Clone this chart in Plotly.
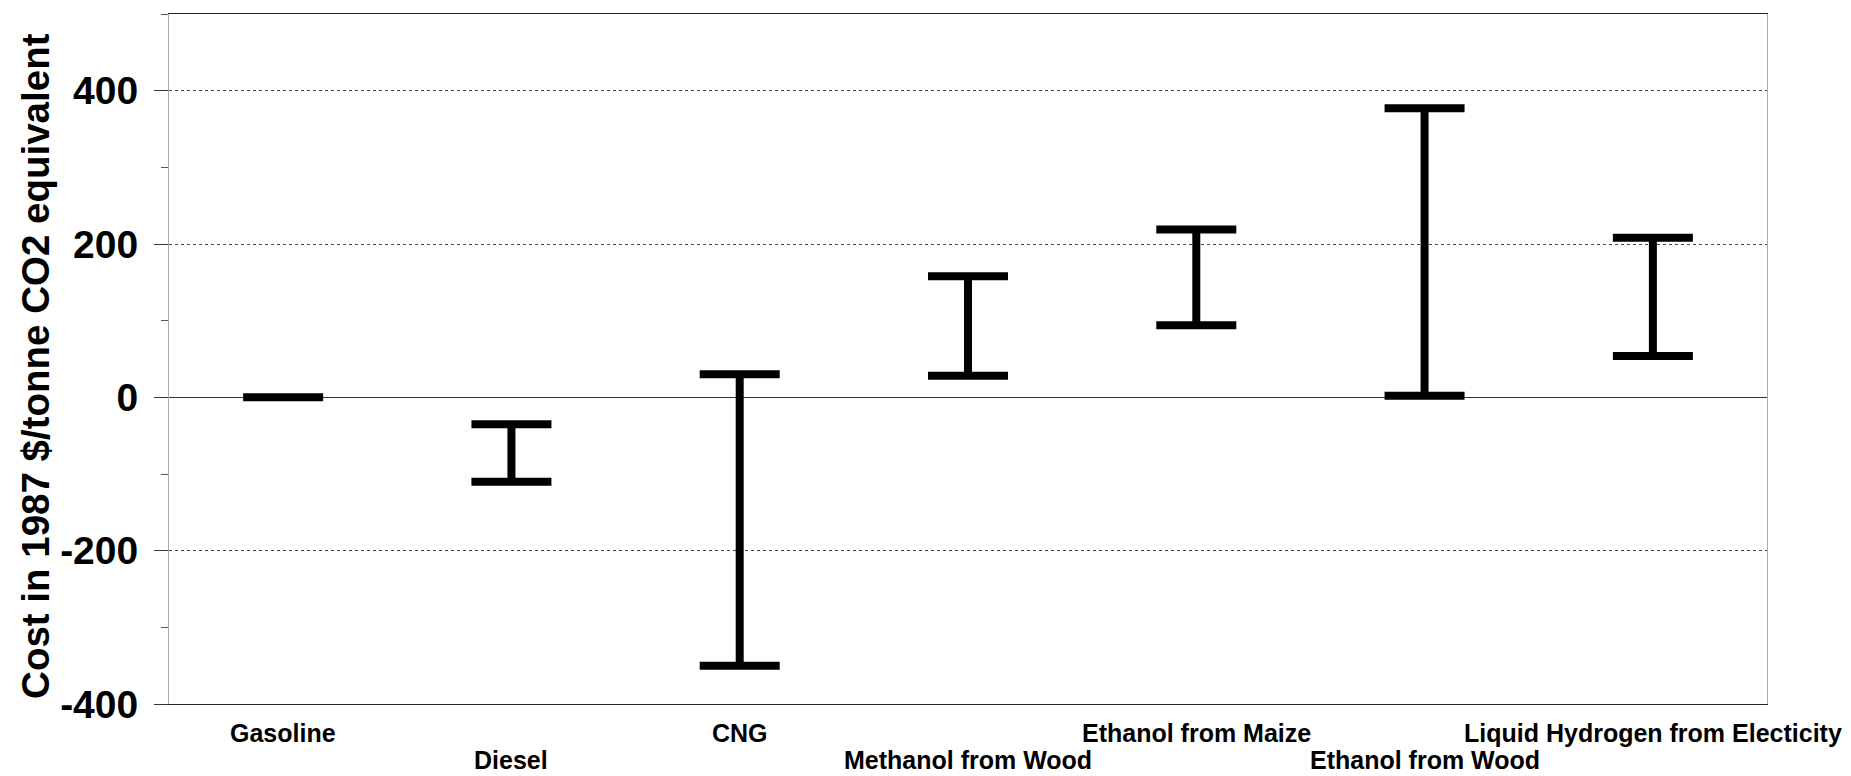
import plotly.graph_objects as go

# Fuel options and the cost range (low / high) of each, 1987 $ per tonne CO2 equivalent
fuels = [
    "Gasoline",
    "Diesel",
    "CNG",
    "Methanol from Wood",
    "Ethanol from Maize",
    "Ethanol from Wood",
    "Liquid Hydrogen from Electicity",
]
cost_low = [0, -110, -350, 28, 94, 2, 54]
cost_high = [0, -35, 30, 158, 219, 377, 208]

y_ticks = [-400, -200, 0, 200, 400]
y_tick_text = [str(v) for v in y_ticks]

FONT = "Liberation Sans, Arial, Helvetica, sans-serif"

fig = go.Figure()
fig.add_trace(
    go.Scatter(
        x=fuels,
        y=cost_low,
        mode="markers",
        marker=dict(size=0.1, color="black", opacity=0),
        error_y=dict(
            type="data",
            symmetric=False,
            array=[h - l for h, l in zip(cost_high, cost_low)],
            arrayminus=[0] * len(fuels),
            color="black",
            thickness=8,
            width=40,
        ),
        showlegend=False,
        hoverinfo="skip",
    )
)

# category labels, staggered over two rows below the axis
label_notes = [
    dict(
        text=name,
        x=name,
        xref="x",
        y=0,
        yref="paper",
        xanchor="center",
        yanchor="middle",
        yshift=-29 if i % 2 == 0 else -56,
        borderpad=0,
        showarrow=False,
        font=dict(size=25, family=FONT, weight=700, color="black"),
    )
    for i, name in enumerate(fuels)
]

title_note = dict(
    text="Cost in 1987 $/tonne CO2 equivalent",
    textangle=-90,
    xref="paper",
    yref="paper",
    x=-133 / 1598,
    y=0.49,
    xanchor="center",
    yanchor="middle",
    showarrow=False,
    font=dict(size=38.5, family=FONT, weight=800, color="black"),
)

fig.update_layout(
    width=1851,
    height=776,
    margin=dict(l=169, r=84, t=14, b=72, autoexpand=False),
    paper_bgcolor="white",
    plot_bgcolor="white",
    font=dict(family=FONT, color="black"),
    xaxis=dict(
        type="category",
        range=[-0.5, 6.5],
        showticklabels=False,
        ticks="",
        showgrid=False,
        showline=True,
        linecolor="#222",
        linewidth=1.2,
        mirror=True,
        automargin=False,
    ),
    yaxis=dict(
        range=[-400, 500],
        tickvals=y_ticks,
        ticktext=y_tick_text,
        tickfont=dict(size=39, family=FONT, weight=800),
        ticks="outside",
        ticklen=14,
        tickwidth=1,
        tickcolor="#333",
        ticklabelstandoff=8,
        minor=dict(dtick=100, ticks="outside", ticklen=7, tickcolor="#555", showgrid=False),
        showgrid=True,
        gridcolor="#444",
        gridwidth=1,
        griddash="dot",
        zeroline=True,
        zerolinecolor="#333",
        zerolinewidth=1,
        showline=True,
        linecolor="#aaa",
        linewidth=1,
        mirror=True,
        automargin=False,
    ),
    annotations=label_notes + [title_note],
)

fig.write_html("out.html")
